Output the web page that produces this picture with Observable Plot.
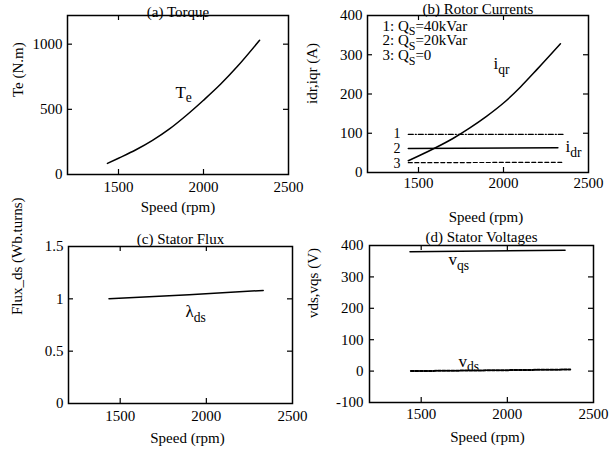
<!DOCTYPE html>
<html><head><meta charset="utf-8">
<script src="https://cdn.jsdelivr.net/npm/d3@7"></script>
<script src="https://cdn.jsdelivr.net/npm/@observablehq/plot@0.6"></script>
<style>
body{margin:0;background:#fff;}
#chart{position:relative;width:614px;height:450px;overflow:hidden;background:#fff;}
#chart svg{position:absolute;overflow:visible;background:transparent;}
</style></head><body><div id="chart"></div>
<script>
// ---- shared x axis ----
const speedDomain = [1200, 2500];
const speedTicks = [1500, 2000, 2500];

// ---- (a) Torque ----
const teSpeed  = [1435, 1500, 1600, 1700, 1800, 1900, 2000, 2100, 2200, 2330];
const teValues = [85, 125, 188, 262, 350, 455, 570, 692, 830, 1030];
const teTicks = [0, 500, 1000];

// ---- (b) Rotor currents ----
const iqrSpeed  = [1440, 1500, 1600, 1700, 1800, 1900, 2000, 2100, 2200, 2335];
const iqrValues = [30, 42, 63, 86, 113, 143, 177, 218, 264, 328];
const idrSpeed = [1440, 2350];
const idrQs40 = [97, 97];
const idrQs20Speed = [1440, 2320];
const idrQs20 = [61, 63];
const idrQs0 = [25, 26];
const legendLines = ["1: Q_{S}=40kVar", "2: Q_{S}=20kVar", "3: Q_{S}=0"];
const currentTicks = [0, 100, 200, 300, 400];

// ---- (c) Stator flux ----
const fluxSpeed = [1435, 1900, 2330];
const fluxValues = [1.0, 1.04, 1.08];
const fluxTicks = [0, 0.5, 1, 1.5];

// ---- (d) Stator voltages ----
const vqsSpeed = [1435, 2335];
const vqsValues = [380, 385];
const vdsSpeed = [1440, 2365];
const vdsValues = [0, 5];
const voltTicks = [-100, 0, 100, 200, 300, 400];

const font = "'Liberation Serif', 'Times New Roman', serif";
const pts = (xs, ys) => xs.map((x, i) => ({x, y: ys[i]}));

function applySubs(svg) {
  d3.select(svg).selectAll("text").each(function () {
    const t = this.textContent;
    if (!t.includes("_{")) return;
    const sel = d3.select(this);
    sel.text("");
    const parts = t.split(/(_\{[^}]*\})/).filter(p => p.length);
    let inSub = false;
    for (const p of parts) {
      if (p.startsWith("_{")) {
        // 0.35em of the 0.8em subscript = 0.28em of the parent
        sel.append("tspan").attr("dy", "0.35em").attr("font-size", "0.8em").text(p.slice(2, -1));
        inSub = true;
      } else {
        const ts = sel.append("tspan").text(p);
        if (inSub) ts.attr("dy", "-0.28em");
        inSub = false;
      }
    }
  });
}

function panel(cfg) {
  const W = cfg.width - cfg.ml - cfg.mr;
  const H = cfg.height - cfg.mt - cfg.mb;
  const xInner = speedTicks.filter(d => d > speedDomain[0] && d < speedDomain[1]);
  const yInner = cfg.yTicks.filter(d => d > cfg.yDomain[0] && d < cfg.yDomain[1]);
  const marks = [
    Plot.frame({stroke: "black", strokeWidth: 1.5}),
    Plot.tickX(xInner, {x: d => d, insetTop: H - 5, stroke: "black", strokeWidth: 1.2}),
    Plot.tickX(xInner, {x: d => d, insetBottom: H - 5, stroke: "black", strokeWidth: 1.2}),
    Plot.tickY(yInner, {y: d => d, insetRight: W - 5, stroke: "black", strokeWidth: 1.2}),
    Plot.tickY(yInner, {y: d => d, insetLeft: W - 5, stroke: "black", strokeWidth: 1.2}),
    Plot.axisX({ticks: speedTicks, tickSize: 0, tickPadding: cfg.xPad, tickFormat: d => String(d)}),
    Plot.axisY({ticks: cfg.yTicks, tickSize: 0, tickPadding: cfg.yPad, tickFormat: d => String(d)}),
    Plot.text([cfg.title], {text: d => d, frameAnchor: "top", lineAnchor: "bottom", dy: cfg.titleDy}),
    Plot.text([cfg.xLabel], {text: d => d, frameAnchor: "bottom", lineAnchor: "middle", dy: cfg.xLabelDy, dx: cfg.xLabelDx}),
    Plot.text([cfg.yLabel], {text: d => d, frameAnchor: "left", lineAnchor: "middle", rotate: -90, dx: cfg.yLabelDx, dy: cfg.yLabelDy}),
    ...cfg.marks
  ];
  const svg = Plot.plot({
    width: cfg.width, height: cfg.height,
    marginLeft: cfg.ml, marginRight: cfg.mr, marginTop: cfg.mt, marginBottom: cfg.mb,
    style: {fontFamily: font, fontSize: "15px", color: "black", background: "transparent"},
    x: {domain: speedDomain, label: null},
    y: {domain: cfg.yDomain, label: null},
    marks
  });
  applySubs(svg);
  svg.style.left = cfg.left + "px";
  svg.style.top = cfg.top + "px";
  document.getElementById("chart").appendChild(svg);
}

const line = (data, extra = {}) => Plot.line(data, {x: "x", y: "y", stroke: "black", strokeWidth: 1.5, ...extra});

panel({
  left: 0, top: 0, width: 300, height: 225, ml: 67, mr: 12, mt: 15, mb: 51,
  yDomain: [0, 1220], yTicks: teTicks, xPad: 7, yPad: 5,
  title: "(a) Torque", titleDy: 1,
  xLabel: "Speed (rpm)", xLabelDy: 33, xLabelDx: 0,
  yLabel: "Te (N.m)", yLabelDx: -49, yLabelDy: 2,
  marks: [
    line(pts(teSpeed, teValues), {curve: "monotone-x"}),
    Plot.text([{x: 1835, y: 631, t: "T_{e}"}], {x: "x", y: "y", text: "t", textAnchor: "start", fontSize: 17})
  ]
});

panel({
  left: 300, top: 0, width: 314, height: 225, ml: 67, mr: 26, mt: 15, mb: 53,
  yDomain: [0, 400], yTicks: currentTicks, xPad: 5, yPad: 5,
  title: "(b) Rotor Currents", titleDy: -2,
  xLabel: "Speed (rpm)", xLabelDy: 45, xLabelDx: 8,
  yLabel: "idr,iqr (A)", yLabelDx: -55, yLabelDy: 10,
  marks: [
    line(pts(idrSpeed, idrQs40), {strokeWidth: 1.2, strokeDasharray: "5,2,1,2"}),
    line(pts(idrQs20Speed, idrQs20)),
    line(pts(idrSpeed, idrQs0), {strokeWidth: 1.2, strokeDasharray: "4,2.5"}),
    line(pts(iqrSpeed, iqrValues), {curve: "monotone-x"}),
    Plot.text(legendLines.map((t, i) => ({t, y: [374, 336, 298][i]})), {x: () => 1288, y: "y", text: "t", textAnchor: "start"}),
    Plot.text(["1", "2", "3"].map((t, i) => ({t, y: [100, 61, 22][i]})), {x: () => 1394, y: "y", text: "t", textAnchor: "end", fontSize: 14}),
    Plot.text([{x: 1941, y: 278, t: "i_{qr}"}], {x: "x", y: "y", text: "t", textAnchor: "start", fontSize: 17}),
    Plot.text([{x: 2365, y: 66, t: "i_{dr}"}], {x: "x", y: "y", text: "t", textAnchor: "start", fontSize: 17})
  ]
});

panel({
  left: 0, top: 225, width: 300, height: 225, ml: 68, mr: 8, mt: 21, mb: 47,
  yDomain: [0, 1.5], yTicks: fluxTicks, xPad: 7, yPad: 5,
  title: "(c) Stator Flux", titleDy: -3,
  xLabel: "Speed (rpm)", xLabelDy: 35, xLabelDx: 7,
  yLabel: "Flux_ds (Wb.turns)", yLabelDx: -51, yLabelDy: -10,
  marks: [
    line(pts(fluxSpeed, fluxValues)),
    Plot.text([{x: 1879, y: 0.88, t: "λ_{ds}"}], {x: "x", y: "y", text: "t", textAnchor: "start", fontSize: 17})
  ]
});

panel({
  left: 300, top: 225, width: 314, height: 225, ml: 69, mr: 21, mt: 20, mb: 48,
  yDomain: [-100, 400], yTicks: voltTicks, xPad: 6, yPad: 6,
  title: "(d) Stator Voltages", titleDy: -4,
  xLabel: "Speed (rpm)", xLabelDy: 35, xLabelDx: 6,
  yLabel: "vds,vqs (V)", yLabelDx: -56, yLabelDy: -6,
  marks: [
    line(pts(vqsSpeed, vqsValues)),
    line(pts(vdsSpeed, vdsValues), {strokeWidth: 2, strokeDasharray: "3,1.5"}),
    Plot.text([{x: 1658, y: 355, t: "v_{qs}"}], {x: "x", y: "y", text: "t", textAnchor: "start", fontSize: 17}),
    Plot.text([{x: 1716, y: 32, t: "v_{ds}"}], {x: "x", y: "y", text: "t", textAnchor: "start", fontSize: 17})
  ]
});
</script></body></html>
